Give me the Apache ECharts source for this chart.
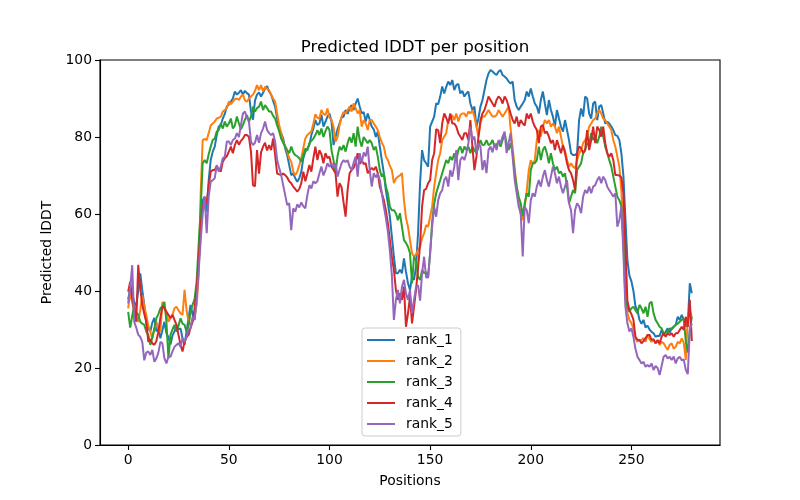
<!DOCTYPE html>
<html>
<head>
<meta charset="utf-8">
<script src="https://cdn.jsdelivr.net/npm/echarts@6/dist/echarts.min.js"></script>
<style>
  html, body { margin: 0; padding: 0; background: #fff; }
  #main { width: 800px; height: 500px; }
</style>
</head>
<body>
<div id="main"></div>
<script>
const seriesNames = ['rank_1', 'rank_2', 'rank_3', 'rank_4', 'rank_5'];
const xTickValues = [0, 50, 100, 150, 200, 250];
const yTickValues = [0, 20, 40, 60, 80, 100];

const rank_1 = [
37.8, 40.7, 39.5, 37.0, 36.2, 40.1, 44.6, 40.2, 36.4, 31.5,
30.3, 29.5, 31.8, 33.0, 29.5, 30.2, 27.7, 29.8, 32.0, 29.0,
28.0, 26.1, 28.4, 29.5, 31.2, 30.0, 30.3, 27.7, 26.0, 29.5,
33.0, 36.4, 33.9, 32.5, 39.6, 47.0, 55.0, 63.6, 64.5, 60.6,
68.8, 74.0, 76.2, 77.5, 80.5, 82.7, 83.1, 84.8, 86.0, 87.9,
88.5, 89.2, 90.0, 91.8, 91.0, 91.5, 92.2, 91.0, 92.0, 91.4,
91.0, 86.6, 84.5, 89.5, 91.0, 91.6, 90.5, 91.5, 92.6, 93.2,
91.8, 91.0, 89.4, 87.9, 84.8, 82.2, 81.0, 79.6, 77.0, 75.3,
72.7, 70.1, 70.5, 69.3, 68.4, 69.3, 71.0, 74.5, 76.2, 77.0,
77.9, 80.5, 82.2, 84.4, 83.1, 83.5, 85.8, 82.7, 84.0, 85.3,
86.1, 84.0, 77.9, 80.0, 82.0, 83.5, 85.0, 85.3, 87.0, 86.0,
87.5, 88.3, 87.0, 88.7, 90.0, 87.9, 86.1, 86.5, 84.0, 86.1,
84.5, 82.7, 82.0, 80.0, 81.4, 77.5, 74.0, 70.6, 66.2, 62.8,
59.3, 54.1, 48.9, 44.6, 44.6, 45.5, 44.6, 48.5, 45.0, 42.0,
40.3, 43.7, 42.9, 46.3, 55.0, 68.0, 76.6, 74.0, 73.2, 72.3,
82.7, 84.0, 85.3, 88.7, 88.5, 90.5, 93.1, 91.3, 93.0, 94.4,
93.5, 94.8, 92.2, 93.5, 93.8, 91.3, 92.0, 90.5, 91.3, 91.8,
88.7, 87.0, 87.9, 82.7, 84.8, 87.9, 89.6, 92.2, 94.8, 96.5,
97.4, 97.0, 96.5, 96.1, 97.0, 97.4, 96.1, 95.7, 95.2, 94.4,
93.9, 94.4, 89.6, 87.9, 87.0, 87.9, 88.7, 89.6, 91.8, 90.5,
92.6, 90.5, 88.7, 87.9, 86.1, 89.6, 91.8, 88.7, 85.7, 89.6,
87.0, 85.3, 82.7, 87.0, 84.8, 82.7, 81.4, 84.4, 81.8, 79.2,
75.8, 75.3, 75.3, 75.8, 84.4, 87.4, 85.3, 90.5, 90.0, 86.1,
84.8, 88.7, 89.2, 84.4, 87.9, 88.3, 86.1, 83.5, 84.0, 83.5,
82.7, 81.8, 80.5, 80.3, 79.2, 75.8, 70.0, 59.0, 48.0, 44.0,
42.5, 40.0, 36.0, 35.0, 32.5, 31.5, 32.5, 30.5, 31.0, 30.0,
29.4, 29.0, 28.1, 28.4, 28.3, 29.9, 28.5, 29.4, 30.3, 29.2,
30.3, 30.7, 31.2, 33.3, 32.5, 33.8, 32.5, 30.7, 31.5, 42.0, 39.4
];

const rank_2 = [
35.5, 39.8, 37.0, 34.6, 33.5, 32.0, 35.0, 38.9, 36.0, 33.8,
31.0, 29.4, 27.7, 30.0, 32.0, 30.3, 29.4, 37.2, 35.5, 34.6,
32.0, 33.0, 33.8, 35.5, 35.9, 35.0, 34.2, 33.8, 40.3, 35.0,
32.0, 31.2, 32.2, 33.4, 36.4, 44.0, 65.0, 79.2, 79.5, 79.2,
81.0, 83.0, 83.5, 84.0, 84.8, 85.0, 85.3, 86.6, 87.0, 87.5,
89.2, 88.5, 89.2, 89.8, 90.0, 89.6, 90.5, 91.0, 89.5, 89.2,
90.0, 90.5, 91.0, 92.0, 93.5, 92.2, 93.5, 91.8, 93.1, 92.5,
92.2, 91.0, 90.0, 89.2, 86.1, 83.1, 81.0, 78.8, 77.5, 76.2,
74.5, 73.6, 71.0, 70.1, 71.0, 72.7, 74.5, 77.1, 79.6, 80.5,
81.0, 81.4, 83.5, 85.9, 85.0, 84.8, 87.0, 86.0, 85.7, 87.4,
85.0, 84.5, 82.7, 78.8, 79.9, 83.0, 85.3, 86.5, 86.1, 87.0,
87.9, 86.6, 88.7, 87.5, 86.1, 87.0, 82.7, 84.4, 83.5, 81.8,
84.4, 84.4, 83.5, 82.7, 81.8, 80.0, 78.5, 77.5, 74.9, 74.0,
72.5, 71.4, 68.0, 69.2, 69.7, 70.0, 70.6, 63.6, 59.0, 56.7,
53.2, 49.8, 48.9, 49.5, 50.6, 51.5, 53.7, 55.0, 57.1, 56.7,
59.3, 61.9, 67.1, 70.6, 74.0, 75.8, 79.2, 80.1, 81.0, 84.4,
84.8, 85.7, 84.4, 86.1, 84.0, 85.7, 86.1, 86.1, 85.3, 86.6,
86.1, 87.0, 85.3, 82.7, 80.1, 83.5, 85.3, 85.3, 86.1, 87.0,
86.1, 85.3, 85.3, 85.7, 87.0, 86.1, 85.3, 86.1, 87.0, 87.9,
82.0, 77.0, 72.0, 67.0, 63.0, 60.0, 58.4, 62.0, 66.0, 71.4,
74.0, 73.0, 74.0, 79.2, 81.8, 80.1, 82.7, 84.4, 83.5, 84.4,
82.7, 83.5, 82.7, 81.0, 82.7, 80.1, 77.5, 76.6, 74.0, 72.3,
73.2, 72.3, 71.9, 74.0, 75.8, 76.6, 78.4, 79.2, 80.1, 82.7,
83.5, 84.4, 84.8, 86.1, 87.0, 86.1, 84.8, 84.4, 83.5, 82.7,
81.8, 79.2, 77.5, 74.9, 72.3, 66.0, 56.0, 42.0, 34.2, 32.5,
31.6, 30.3, 27.7, 26.8, 27.3, 27.3, 27.8, 26.8, 28.6, 27.5,
26.8, 27.3, 26.4, 27.0, 26.0, 26.8, 26.4, 25.5, 24.7, 26.0,
26.4, 25.0, 25.5, 26.8, 26.4, 27.7, 26.5, 22.1, 33.3, 35.0, 33.3
];

const rank_3 = [
34.6, 30.5, 33.5, 36.4, 34.5, 33.8, 32.0, 31.5, 31.2, 29.5,
28.6, 26.0, 28.0, 30.3, 32.9, 34.0, 35.5, 36.0, 37.2, 32.0,
22.5, 28.6, 30.0, 31.2, 29.4, 31.0, 32.9, 31.5, 31.2, 29.4,
31.0, 34.6, 36.4, 38.0, 42.4, 52.0, 61.0, 73.2, 74.0, 73.2,
75.5, 77.5, 79.2, 79.6, 81.4, 81.8, 83.5, 82.2, 84.0, 82.7,
83.5, 84.8, 82.2, 83.0, 85.3, 83.5, 82.0, 83.1, 84.5, 85.7,
84.0, 85.3, 87.9, 86.6, 87.5, 87.9, 89.2, 87.0, 88.3, 87.5,
86.6, 86.6, 85.5, 84.8, 83.0, 81.5, 79.6, 78.5, 77.5, 76.6,
75.8, 77.5, 76.0, 75.3, 75.0, 74.5, 73.6, 75.3, 77.0, 76.5,
78.4, 79.0, 79.6, 80.5, 81.8, 80.5, 82.2, 80.0, 81.5, 82.7,
81.8, 76.6, 74.0, 70.6, 75.0, 77.5, 76.6, 77.9, 76.2, 78.4,
80.0, 78.5, 81.0, 77.5, 82.7, 79.2, 77.5, 80.0, 79.2, 78.4,
79.2, 78.4, 76.6, 77.5, 74.9, 71.4, 69.7, 70.6, 67.1, 65.4,
61.9, 61.0, 61.0, 60.2, 58.4, 60.2, 56.7, 53.2, 52.5, 51.5,
49.8, 42.0, 48.9, 48.0, 43.7, 42.9, 45.5, 44.6, 45.0, 43.7,
49.8, 58.0, 62.5, 65.4, 67.1, 68.8, 70.6, 72.3, 74.0, 73.2,
74.9, 74.0, 75.8, 74.0, 76.6, 77.5, 75.8, 77.5, 76.6, 77.5,
75.8, 77.5, 76.6, 75.8, 77.5, 79.2, 77.9, 78.0, 79.2, 77.9,
78.2, 79.2, 77.5, 78.0, 78.8, 77.5, 79.2, 81.0, 78.4, 76.6,
78.4, 75.8, 70.6, 67.1, 64.5, 62.8, 59.5, 62.8, 65.4, 64.5,
71.4, 73.2, 73.2, 74.0, 77.5, 74.0, 76.6, 77.5, 75.8, 73.2,
75.8, 73.2, 71.4, 72.3, 70.6, 71.0, 69.7, 70.6, 67.1, 62.8,
64.5, 66.2, 65.4, 71.4, 72.3, 73.2, 75.8, 76.6, 78.4, 77.9,
81.0, 79.2, 80.1, 78.4, 80.1, 82.7, 80.1, 77.5, 75.8, 74.0,
72.3, 69.7, 67.1, 64.5, 63.6, 62.0, 53.0, 38.0, 35.9, 34.6,
35.5, 35.9, 35.0, 34.2, 36.4, 35.5, 34.2, 35.9, 33.3, 36.8,
37.2, 34.2, 32.5, 31.6, 30.7, 30.3, 29.0, 29.2, 29.4, 30.3,
30.0, 30.7, 31.2, 31.5, 32.0, 32.5, 32.9, 27.0, 24.0, 29.9, 33.3
];

const rank_4 = [
39.8, 42.4, 38.1, 35.0, 32.0, 46.8, 40.7, 36.4, 34.0, 32.0,
26.8, 27.5, 26.4, 26.0, 27.0, 29.4, 33.0, 36.0, 35.5, 34.6,
33.8, 33.0, 33.8, 32.5, 31.2, 28.6, 26.0, 24.3, 26.8, 28.0,
28.6, 30.5, 32.0, 35.5, 40.7, 48.0, 56.7, 61.9, 63.2, 62.8,
67.5, 71.0, 71.4, 71.4, 72.5, 71.5, 71.0, 73.6, 74.5, 75.0,
76.2, 77.5, 75.8, 77.9, 79.2, 78.0, 79.0, 79.6, 80.5, 80.5,
80.0, 76.2, 67.5, 67.2, 76.6, 70.5, 76.0, 77.5, 78.5, 76.5,
77.9, 76.6, 79.6, 75.3, 70.5, 70.3, 70.1, 70.5, 70.1, 69.5,
68.5, 68.0, 67.1, 66.5, 65.8, 66.5, 68.0, 71.0, 68.5, 70.5,
72.7, 71.0, 74.5, 77.5, 74.0, 76.6, 75.5, 73.2, 75.8, 74.5,
74.9, 72.3, 71.5, 70.6, 64.5, 68.0, 67.0, 63.0, 59.3, 66.2,
70.6, 71.4, 72.0, 73.2, 75.8, 73.0, 74.0, 73.0, 73.2, 70.6,
71.4, 72.0, 71.4, 72.3, 70.6, 67.1, 65.4, 63.6, 61.0, 57.6,
53.2, 48.9, 45.5, 40.3, 37.7, 39.4, 37.7, 41.1, 30.7, 34.2,
38.5, 31.6, 35.9, 40.3, 46.0, 52.0, 62.0, 66.2, 66.5, 68.0,
68.8, 74.0, 75.8, 82.0, 81.8, 78.4, 83.5, 86.1, 85.0, 83.5,
86.1, 83.5, 83.5, 82.7, 81.0, 80.1, 79.2, 81.0, 81.0, 79.2,
84.4, 77.5, 71.4, 74.9, 80.0, 84.4, 86.1, 87.0, 88.7, 90.5,
89.6, 88.7, 87.9, 89.6, 90.5, 90.0, 88.7, 90.5, 89.6, 87.9,
86.1, 84.4, 83.5, 85.3, 82.7, 84.4, 83.5, 83.0, 86.1, 84.8,
86.1, 84.0, 82.7, 81.8, 78.4, 82.7, 83.1, 81.0, 81.4, 80.1,
78.4, 79.2, 76.6, 79.2, 77.5, 75.8, 77.9, 75.8, 73.2, 71.4,
70.6, 68.8, 66.2, 75.8, 77.5, 77.1, 75.8, 76.6, 81.8, 76.6,
79.2, 82.7, 78.4, 82.7, 81.8, 80.1, 82.7, 78.4, 75.8, 74.9,
75.8, 74.0, 70.1, 70.1, 70.0, 69.5, 65.4, 52.0, 37.5, 35.0,
34.0, 32.5, 28.1, 27.3, 27.3, 26.4, 27.0, 27.7, 28.6, 28.6,
27.3, 27.5, 26.4, 27.3, 26.4, 28.1, 29.0, 28.1, 29.0, 28.6,
29.0, 28.1, 29.0, 29.0, 29.9, 30.7, 29.9, 33.3, 30.7, 37.7, 27.0
];

const rank_5 = [
36.8, 41.0, 46.7, 32.0, 30.5, 28.6, 28.1, 26.8, 22.0, 24.0,
24.3, 23.4, 24.7, 21.6, 22.5, 24.0, 26.8, 26.4, 22.5, 21.2,
23.0, 22.9, 24.3, 25.5, 26.0, 26.4, 25.5, 27.7, 26.8, 28.0,
29.9, 30.3, 33.3, 32.5, 37.7, 45.0, 53.0, 60.0, 64.5, 55.0,
64.5, 68.4, 68.8, 69.3, 72.7, 71.0, 72.3, 74.5, 74.9, 78.8,
78.8, 77.9, 79.2, 79.6, 81.0, 80.0, 83.1, 86.1, 86.6, 85.0,
84.0, 78.8, 77.9, 78.5, 80.5, 78.5, 81.0, 82.2, 84.0, 81.8,
81.0, 80.5, 81.0, 78.8, 74.0, 72.0, 70.1, 67.5, 64.9, 62.3,
62.8, 55.8, 61.5, 60.6, 62.5, 61.7, 63.0, 62.0, 61.5, 64.9,
67.5, 66.6, 68.5, 68.0, 68.5, 70.6, 72.3, 70.0, 71.4, 73.2,
72.3, 73.2, 72.0, 73.2, 69.7, 71.5, 73.2, 74.0, 73.5, 74.0,
72.3, 71.4, 73.3, 74.9, 69.7, 75.8, 73.2, 76.0, 75.0, 77.5,
71.4, 67.1, 70.6, 69.5, 70.5, 68.8, 65.4, 62.0, 59.0, 55.5,
50.5, 44.0, 32.5, 37.7, 40.3, 36.8, 41.1, 42.9, 39.4, 37.7,
40.3, 34.2, 37.7, 41.0, 41.5, 37.5, 44.6, 48.9, 43.5, 43.5,
50.0, 56.7, 61.9, 59.3, 63.6, 65.4, 66.2, 68.8, 69.7, 67.1,
71.4, 69.7, 72.3, 76.6, 68.8, 74.0, 74.9, 74.0, 75.8, 78.4,
82.7, 79.2, 80.1, 75.8, 78.4, 77.5, 71.4, 74.0, 70.6, 76.6,
77.5, 76.0, 78.4, 76.6, 79.2, 78.4, 80.1, 81.4, 75.8, 78.4,
81.0, 74.9, 68.8, 65.4, 61.9, 60.2, 49.0, 61.9, 61.0, 57.6,
63.6, 65.4, 64.5, 67.1, 68.8, 67.1, 69.7, 71.4, 68.8, 67.1,
69.7, 72.3, 70.6, 68.0, 69.7, 67.1, 65.4, 67.1, 68.8, 62.8,
61.0, 55.0, 61.0, 62.8, 62.0, 60.2, 64.5, 66.2, 65.4, 67.1,
65.4, 67.1, 67.5, 68.8, 69.7, 68.0, 69.7, 68.8, 67.1, 66.2,
65.4, 64.5, 65.4, 56.7, 58.4, 62.0, 50.0, 36.0, 31.6, 29.5,
30.3, 28.1, 25.0, 22.9, 22.1, 21.2, 21.6, 20.3, 20.8, 20.3,
21.2, 19.5, 20.5, 20.0, 18.2, 20.5, 22.9, 23.4, 22.5, 22.9,
22.1, 23.0, 21.2, 22.5, 22.9, 22.0, 22.2, 19.5, 18.4, 29.9, 31.6
];

const seriesValues = [rank_1, rank_2, rank_3, rank_4, rank_5];
const colors = ['#1f77b4', '#ff7f0e', '#2ca02c', '#d62728', '#9467bd'];
const FONT = 'DejaVu Sans';

const chart = echarts.init(document.getElementById('main'), null, { renderer: 'canvas' });
chart.setOption({
  animation: false,
  backgroundColor: '#ffffff',
  title: {
    text: 'Predicted lDDT per position',
    left: 410, top: 34, textAlign: 'center',
    textStyle: { fontFamily: FONT, fontSize: 16.7, fontWeight: 'normal', color: '#000' }
  },
  grid: {
    left: 100, right: 80, top: 60, bottom: 55,
    show: true, borderColor: '#000', borderWidth: 1.1, backgroundColor: 'transparent'
  },
  legend: {
    orient: 'vertical', left: 362, top: 328,
    padding: [5, 8, 5, 5],
    itemWidth: 28, itemHeight: 2, itemGap: 7,
    icon: 'rect',
    backgroundColor: 'rgba(255,255,255,0.8)',
    borderColor: '#cccccc', borderWidth: 1, borderRadius: 3,
    textStyle: { fontFamily: FONT, fontSize: 13.9, color: '#000', padding: [0, 0, 0, 6] },
    data: seriesNames
  },
  xAxis: {
    type: 'value', min: -14, max: 294,
    name: 'Positions', nameLocation: 'middle', nameGap: 29,
    nameTextStyle: { fontFamily: FONT, fontSize: 13.9, color: '#000' },
    axisLine: { show: true, onZero: false, lineStyle: { color: '#000', width: 1.1 } },
    axisTick: { show: true, length: 5, inside: false, customValues: xTickValues, lineStyle: { color: '#000', width: 1.1 } },
    axisLabel: { customValues: xTickValues, margin: 8, fontFamily: FONT, fontSize: 13.9, color: '#000' },
    splitLine: { show: false }
  },
  yAxis: {
    type: 'value', min: 0, max: 100, interval: 20,
    name: 'Predicted lDDT', nameLocation: 'middle', nameGap: 37,
    nameTextStyle: { fontFamily: FONT, fontSize: 13.9, color: '#000' },
    axisLine: { show: true, onZero: false, lineStyle: { color: '#000', width: 1.1 } },
    axisTick: { show: true, length: 5, inside: false, lineStyle: { color: '#000', width: 1.1 } },
    axisLabel: { margin: 8, fontFamily: FONT, fontSize: 13.9, color: '#000' },
    splitLine: { show: false }
  },
  series: seriesNames.map((name, k) => ({
    name: name,
    type: 'line',
    data: seriesValues[k].map((v, i) => [i, v]),
    showSymbol: false,
    symbol: 'none',
    lineStyle: { width: 2, color: colors[k] },
    itemStyle: { color: colors[k] },
    emphasis: { disabled: true }
  }))
});
</script>
</body>
</html>
